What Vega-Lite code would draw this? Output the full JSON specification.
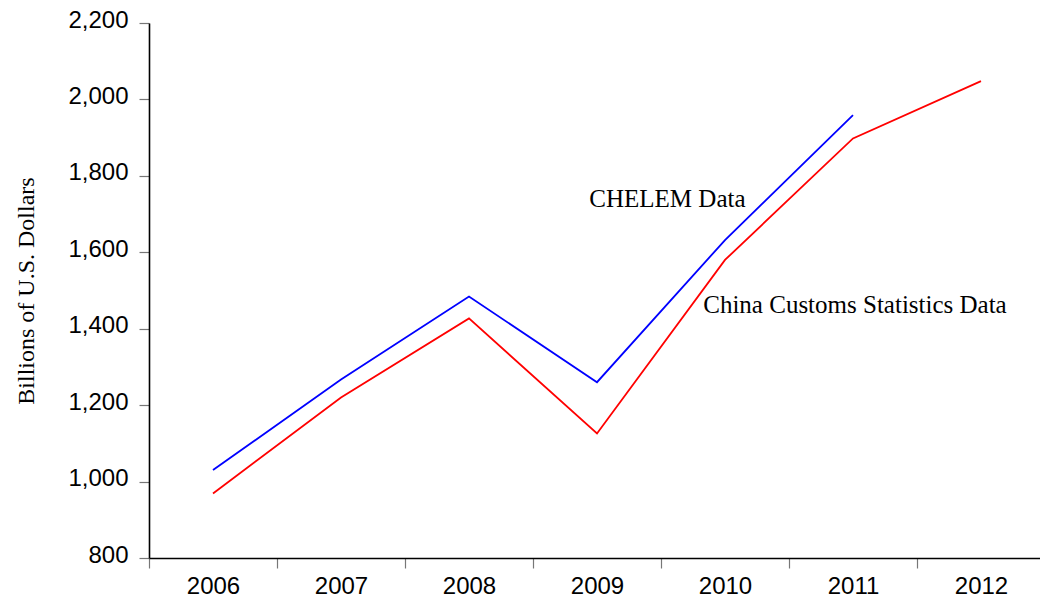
{
  "$schema": "https://vega.github.io/schema/vega-lite/v6.json",
  "width": 891,
  "height": 535,
  "autosize": {"type": "none"},
  "padding": {"left": 149, "top": 23, "right": 0, "bottom": 49},
  "background": "white",
  "config": {"view": {"stroke": null}},
  "datasets": {
    "series": [
      {"year": 2006, "value": 1030, "series": "CHELEM Data"},
      {"year": 2007, "value": 1267, "series": "CHELEM Data"},
      {"year": 2008, "value": 1484, "series": "CHELEM Data"},
      {"year": 2009, "value": 1260, "series": "CHELEM Data"},
      {"year": 2010, "value": 1632, "series": "CHELEM Data"},
      {"year": 2011, "value": 1959, "series": "CHELEM Data"},
      {"year": 2006, "value": 969, "series": "China Customs Statistics Data"},
      {"year": 2007, "value": 1220, "series": "China Customs Statistics Data"},
      {"year": 2008, "value": 1427, "series": "China Customs Statistics Data"},
      {"year": 2009, "value": 1126, "series": "China Customs Statistics Data"},
      {"year": 2010, "value": 1580, "series": "China Customs Statistics Data"},
      {"year": 2011, "value": 1898, "series": "China Customs Statistics Data"},
      {"year": 2012, "value": 2048, "series": "China Customs Statistics Data"}
    ],
    "labels": [
      {"year": 2008.94, "value": 1740, "label": "CHELEM Data"},
      {"year": 2009.83, "value": 1463, "label": "China Customs Statistics Data"}
    ]
  },
  "layer": [
    {
      "data": {"name": "series"},
      "mark": {"type": "line", "strokeWidth": 1.8},
      "encoding": {
        "x": {
          "field": "year",
          "type": "quantitative",
          "scale": {"domain": [2005.5, 2012.4609], "nice": false, "zero": false},
          "axis": {
            "title": null,
            "values": [2005.5, 2006.5, 2007.5, 2008.5, 2009.5, 2010.5, 2011.5],
            "labelExpr": "format(datum.value + 0.5, 'd')",
            "labelOffset": 64,
            "labelFont": "Liberation Sans",
            "labelFontSize": 24,
            "labelColor": "black",
            "labelPadding": 6,
            "labelFlush": false,
            "labelOverlap": false,
            "grid": false,
            "tickSize": 10,
            "tickColor": "#777777",
            "tickWidth": 1.2,
            "domainColor": "black",
            "domainWidth": 1.6
          }
        },
        "y": {
          "field": "value",
          "type": "quantitative",
          "scale": {"domain": [800, 2200], "nice": false, "zero": false},
          "axis": {
            "title": "Billions of U.S. Dollars",
            "titleFont": "Liberation Serif",
            "titleFontSize": 24,
            "titleFontWeight": "normal",
            "titleColor": "black",
            "titleX": -116,
            "titleY": 267.5,
            "titleAngle": -90,
            "titleBaseline": "alphabetic",
            "titleAlign": "center",
            "values": [800, 1000, 1200, 1400, 1600, 1800, 2000, 2200],
            "format": ",d",
            "labelFont": "Liberation Sans",
            "labelFontSize": 24,
            "labelColor": "black",
            "labelPadding": 11,
            "labelOffset": -3,
            "labelFlush": false,
            "labelOverlap": false,
            "grid": false,
            "tickSize": 10,
            "tickColor": "#777777",
            "tickWidth": 1.2,
            "domainColor": "black",
            "domainWidth": 1.6
          }
        },
        "color": {
          "field": "series",
          "type": "nominal",
          "scale": {"domain": ["CHELEM Data", "China Customs Statistics Data"], "range": ["#0000FF", "#FF0000"]},
          "legend": null
        }
      }
    },
    {
      "mark": {"type": "rule", "color": "black", "strokeWidth": 1.6},
      "encoding": {"y": {"datum": 2200}}
    },
    {
      "data": {"name": "labels"},
      "mark": {"type": "text", "font": "Liberation Serif", "fontSize": 25, "align": "left", "baseline": "middle", "color": "black"},
      "encoding": {
        "x": {"field": "year", "type": "quantitative"},
        "y": {"field": "value", "type": "quantitative"},
        "text": {"field": "label"}
      }
    }
  ]
}
